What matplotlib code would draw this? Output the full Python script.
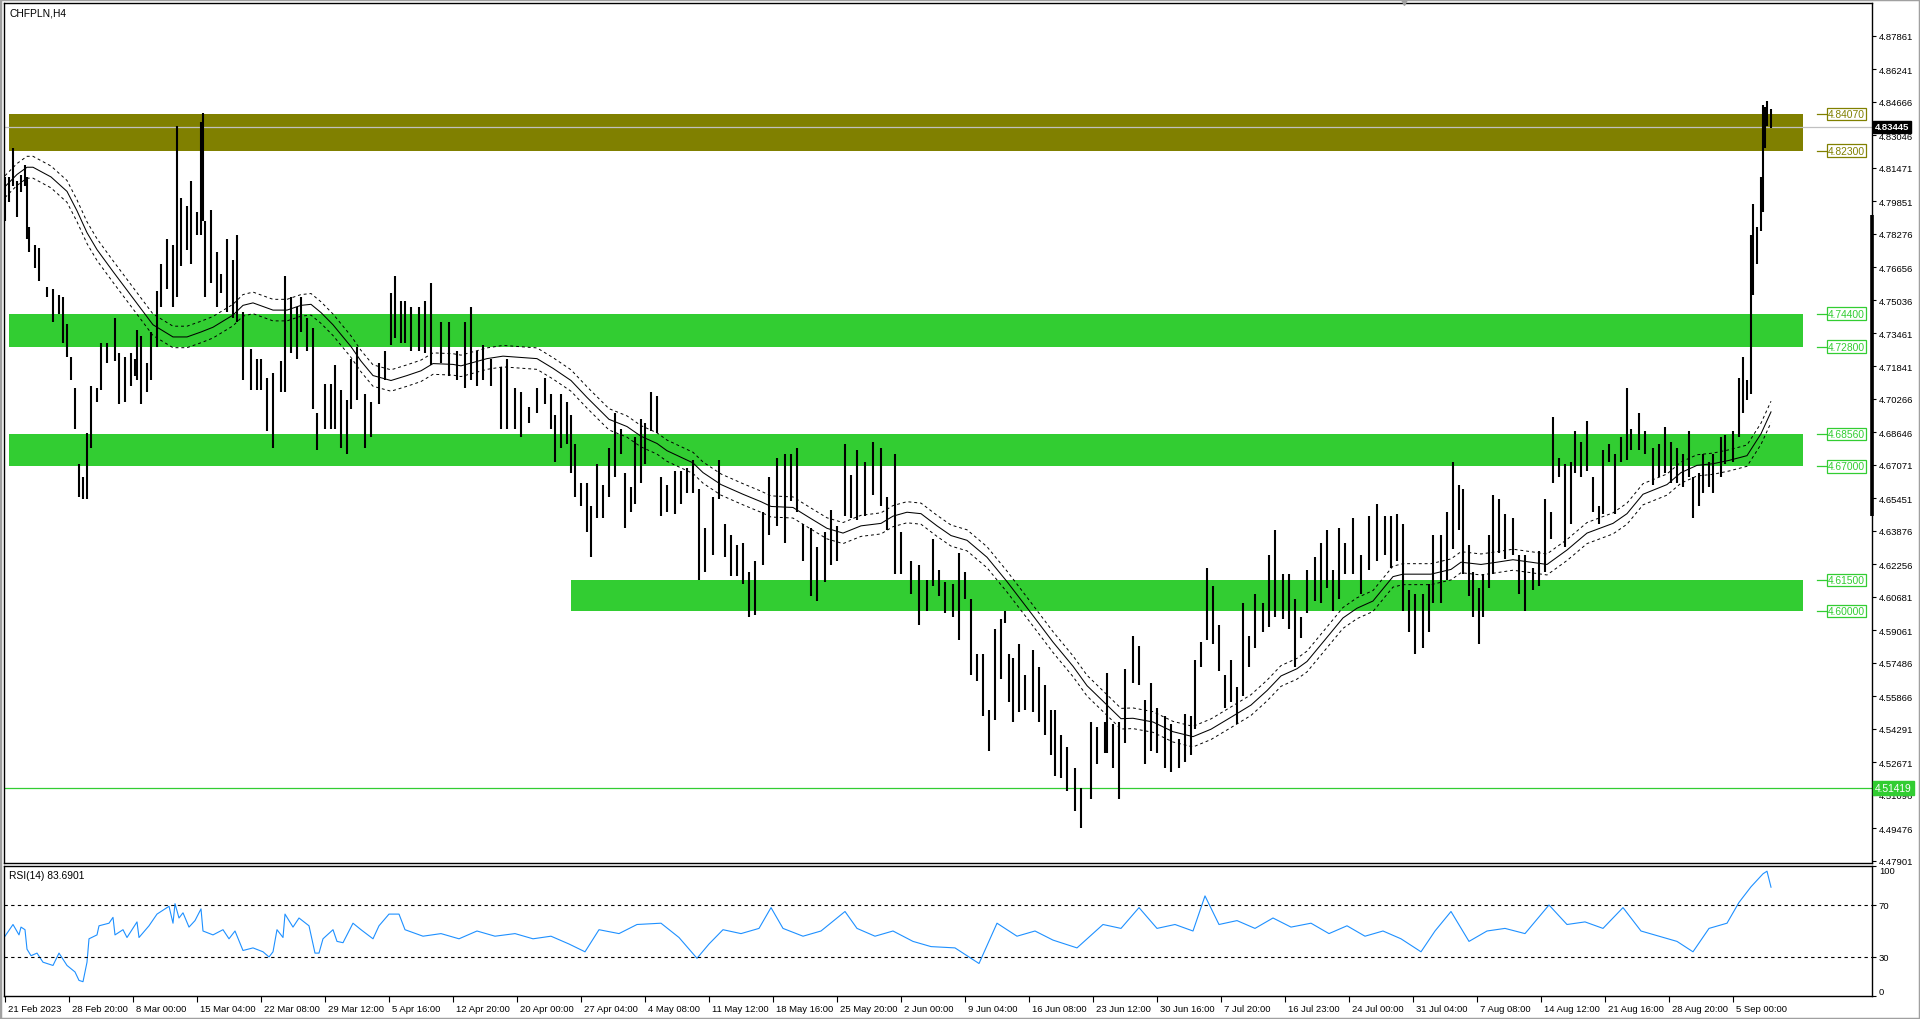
import matplotlib
matplotlib.use("Agg")
import matplotlib.pyplot as plt
import matplotlib.transforms as mtransforms
from matplotlib.patches import Rectangle

# ---------------- data ----------------
symbol_title = "CHFPLN,H4"

bar_idx = [0,2,4,6,8,10,11,12,15,17,21,24,27,29,31,33,35,37,39,41,43,46,48,51,55,57,60,63,65,66,68,71,73,76,78,81,84,86,88,91,93,96,98,99,100,103,106,108,111,114,116,119,123,126,128,131,134,138,140,143,146,148,151,154,156,160,163,165,168,171,173,176,180,183,187,190,193,195,198,200,203,207,210,213,218,222,226,230,
           233,236,239,243,248,251,255,258,262,266,270,273,275,278,281,283,285,288,291,293,296,299,302,305,308,310,313,315,318,320,323,326,328,331,335,338,341,344,347,350,354,357,360,363,366,369,372,375,379,382,386,390,393,396,399,403,406,410,413,416,420,423,426,430,434,438,441,445,448,453,457,461,
           464,467,470,474,477,480,483,486,489,492,495,498,500,502,504,507,510,514,517,520,523,525,528,531,535,538,543,546,550,551,554,557,560,564,567,570,573,576,580,583,587,590,593,595,598,601,604,607,610,613,616,619,622,625,629,632,635,639,642,645,648,651,655,658,661,664,667,670,674,678,682,686,690,
           693,696,699,702,705,709,712,714,718,721,724,727,729,732,734,737,739,742,744,747,750,754,757,760,764,767,770,773,774,777,780,783,785,788,791,794,797,799,802,805,808,811,813,817,820,824,827,830,833,836,839,842,844,847,849,852,854,858,860,864,867,869,871,873,874,876,878,879,880,881,883]

bar_high = [4.810,4.810,4.824,4.808,4.811,4.816,4.810,4.786,4.777,4.776,
            4.757,4.756,4.753,4.752,4.739,4.723,4.708,4.671,4.665,4.686,
            4.709,4.708,4.730,4.730,4.742,4.725,4.723,4.725,4.722,4.736,
            4.733,4.720,4.735,4.755,4.768,4.780,4.777,4.835,4.800,4.796,
            4.808,4.793,4.837,4.841,4.789,4.794,4.774,4.763,4.780,4.770,
            4.782,4.745,4.727,4.722,4.722,4.713,4.715,4.721,4.762,4.752,
            4.747,4.752,4.742,4.737,4.696,4.710,4.710,4.719,4.707,4.702,
            4.722,4.728,4.705,4.701,4.720,4.726,4.754,4.762,4.750,4.750,
            4.747,4.747,4.750,4.759,4.740,4.740,4.726,4.740,
            4.747,4.726,4.729,4.722,4.718,4.722,4.708,4.706,4.699,4.708,
            4.713,4.705,4.695,4.705,4.701,4.695,4.681,4.662,4.662,4.651,
            4.671,4.661,4.679,4.696,4.688,4.667,4.660,4.684,4.693,4.691,
            4.706,4.704,4.665,4.661,4.668,4.668,4.669,4.673,4.659,4.640,
            4.655,4.673,4.642,4.637,4.632,4.633,4.619,4.624,4.648,4.665,
            4.674,4.676,4.676,4.679,4.642,4.640,4.631,4.638,4.649,4.641,
            4.681,4.666,4.678,4.672,4.682,4.679,4.655,4.676,4.638,4.624,4.622,4.615,
            4.635,4.620,4.614,4.613,4.628,4.619,4.606,4.579,4.579,4.552,
            4.591,4.596,4.600,4.579,4.577,4.584,4.569,4.581,4.573,4.564,
            4.552,4.552,4.540,4.534,4.524,4.514,4.546,4.544,4.546,4.570,
            4.545,4.546,4.572,4.588,4.583,4.557,4.565,4.553,4.549,4.545,
            4.538,4.550,4.549,4.576,4.585,4.621,4.612,4.593,4.569,4.576,
            4.563,4.604,4.588,4.608,4.604,4.627,4.639,4.618,4.618,4.606,
            4.597,4.620,4.626,4.633,4.639,4.620,4.640,4.633,4.645,4.627,
            4.646,4.652,4.646,
            4.646,4.647,4.642,4.610,4.608,4.608,4.613,4.637,4.637,4.648,
            4.672,4.661,4.659,4.632,4.619,4.611,4.618,4.637,4.656,4.654,
            4.647,4.645,4.627,4.627,4.621,4.629,4.654,4.648,4.694,4.674,
            4.671,4.672,4.687,4.682,4.692,4.665,4.651,4.678,4.681,4.676,
            4.684,4.708,4.688,4.696,4.687,4.679,4.681,4.689,4.682,4.679,
            4.676,4.687,4.665,4.667,4.676,4.672,4.676,4.684,4.685,4.687,
            4.713,4.723,4.712,4.782,4.797,4.786,4.810,4.845,4.844,4.847,4.843]

bar_low = [4.789,4.798,4.806,4.791,4.803,4.806,4.780,4.774,4.766,4.760,
           4.752,4.740,4.744,4.730,4.723,4.712,4.688,4.655,4.654,4.654,
           4.679,4.701,4.707,4.720,4.721,4.700,4.701,4.709,4.714,4.712,
           4.700,4.706,4.712,4.728,4.747,4.756,4.747,4.752,4.767,4.775,
           4.768,4.782,4.782,4.789,4.752,4.759,4.747,4.754,4.745,4.742,
           4.740,4.712,4.707,4.707,4.707,4.687,4.679,4.706,4.706,4.725,
           4.722,4.735,4.726,4.698,4.678,4.688,4.688,4.688,4.679,4.676,
           4.698,4.702,4.679,4.684,4.700,4.712,4.729,4.732,4.730,4.730,
           4.726,4.726,4.725,4.719,4.720,4.714,4.712,4.708,
           4.712,4.709,4.712,4.709,4.688,4.688,4.688,4.684,4.691,4.696,
           4.700,4.688,4.672,4.679,4.681,4.667,4.655,4.651,4.638,4.626,
           4.645,4.645,4.655,4.665,4.676,4.640,4.648,4.652,4.662,4.671,
           4.687,4.686,4.646,4.648,4.647,4.652,4.657,4.657,4.615,4.619,
           4.627,4.654,4.626,4.617,4.617,4.613,4.597,4.598,4.622,4.637,
           4.641,4.633,4.653,4.648,4.624,4.607,4.605,4.614,4.622,4.624,
           4.646,4.645,4.644,4.646,4.656,4.651,4.639,4.618,4.618,4.608,4.593,4.600,
           4.612,4.607,4.599,4.597,4.586,4.606,4.569,4.566,4.549,4.532,
           4.547,4.567,4.594,4.556,4.546,4.551,4.552,4.551,4.546,4.540,
           4.530,4.520,4.519,4.513,4.503,4.495,4.509,4.526,4.531,4.531,
           4.524,4.509,4.536,4.565,4.564,4.526,4.532,4.531,4.524,4.522,
           4.524,4.527,4.530,4.543,4.573,4.586,4.584,4.571,4.553,4.556,
           4.545,4.559,4.573,4.582,4.590,4.592,4.597,4.596,4.591,4.573,
           4.587,4.599,4.605,4.604,4.611,4.600,4.606,4.618,4.618,4.608,
           4.620,4.624,4.627,
           4.621,4.624,4.600,4.590,4.579,4.582,4.590,4.604,4.604,4.615,
           4.630,4.639,4.618,4.607,4.597,4.584,4.597,4.611,4.618,4.628,
           4.625,4.627,4.608,4.600,4.610,4.612,4.619,4.635,4.662,4.665,
           4.631,4.642,4.667,4.665,4.668,4.648,4.642,4.647,4.672,4.647,
           4.672,4.673,4.678,4.678,4.676,4.661,4.665,4.667,4.662,4.662,
           4.660,4.665,4.645,4.651,4.657,4.660,4.657,4.665,4.671,4.672,
           4.684,4.696,4.702,4.705,4.753,4.768,4.784,4.793,4.824,4.835,4.834]

ma_idx = [0,6,11,14,23,31,36,41,46,54,64,74,84,91,98,104,114,119,124,134,
          141,148,153,158,164,173,178,184,193,201,208,214,224,228,241,249,266,274,283,291,
          302,311,318,326,331,344,349,358,369,378,383,394,403,411,419,428,438,444,451,458,
          466,473,481,491,501,513,524,534,541,551,558,564,574,584,594,603,613,623,631,638,
          646,651,661,669,676,684,690,694,699,713,723,728,738,746,754,763,771,781,791,804,
          811,819,831,838,846,854,862,871,878,883]
ma_val = [4.8055,4.8114,4.8149,4.8149,4.8102,4.8032,4.7938,4.7832,4.7750,4.7644,
          4.7515,4.7386,4.7327,4.7327,4.7351,4.7374,4.7433,4.7480,4.7492,4.7457,
          4.7457,4.7480,4.7485,4.7445,4.7386,4.7280,4.7210,4.7140,4.7116,4.7140,
          4.7163,4.7198,4.7194,4.7187,4.7222,4.7234,4.7222,4.7175,4.7116,4.7034,
          4.6928,4.6893,4.6846,4.6811,4.6776,4.6717,4.6670,4.6612,4.6565,4.6529,
          4.6506,4.6501,4.6447,4.6400,4.6377,4.6412,4.6424,4.6459,4.6478,4.6471,
          4.6412,4.6365,4.6342,4.6260,4.6142,4.5990,4.5849,4.5732,4.5638,4.5544,
          4.5478,4.5480,4.5462,4.5415,4.5391,4.5427,4.5485,4.5544,4.5614,4.5685,
          4.5720,4.5755,4.5872,4.5966,4.6013,4.6048,4.6119,4.6166,4.6178,4.6178,
          4.6201,4.6236,4.6225,4.6236,4.6248,4.6236,4.6225,4.6295,4.6377,4.6424,
          4.6471,4.6565,4.6612,4.6670,4.6705,4.6713,4.6729,4.6752,4.6858,4.6964]
envelope_pct = 0.11

rsi_idx = [0,4,7,8,10,11,13,16,19,24,27,31,35,37,39,41,42,46,47,52,54,55,59,61,66,67,72,76,82,84,85,87,89,92,95,98,99,
           104,109,112,115,119,124,129,132,134,136,139,140,144,147,152,155,157,159,164,166,169,174,178,184,187,192,197,
           200,209,218,227,236,245,255,264,273,282,290,297,307,316,328,337,346,352,359,368,377,383,389,399,408,420,426,
           435,444,454,463,475,487,496,506,515,524,536,549,558,567,576,585,594,600,607,616,625,634,643,653,662,671,680,
           689,698,708,715,723,732,741,750,760,772,781,790,799,809,818,827,836,844,852,861,867,873,879,881,883]
rsi_val = [46,55,47,53,51,36,31,33,26,23.5,33,23.5,18.5,12,11,26,44,47,54,56,60.5,47,51,45,57,45,54,63,69,56,71,60,64,53,58,67,50,
           47,51,44,50,35,37,34,30,34,51,45,63,53,60,54,33,33,44,51,42,41,56,51,44,54,63,63,
           51,46,48,44,50,46,48,44,46,40,34,51,48,55,56,45,29,40,51,48,52,68,52,46,50,65,52,
           46,50,42,38,37,25,56,46,50,43,37,55,52,68,52,55,50,77,55,58,52,60,53,56,48,54,46,
           50,44,34,50,65,42,50,52,48,70,55,57,52,68,50,46,42,34,52,56,72,84,94,96,83.69]
rsi_last_text = "RSI(14) 83.6901"
rsi_levels = [70, 30]
rsi_ticks = [100, 70, 30, 0]

zone_low = [4.8230, 4.7280, 4.6700, 4.6000]
zone_high = [4.8407, 4.7440, 4.6856, 4.6150]
zone_start = [2, 2, 2, 283]
zone_end = 899
zone_colors = ["#808000", "#32CD32", "#32CD32", "#32CD32"]

current_price = 4.83445
support_price = 4.51419

price_ticks = [4.87861,4.86241,4.84666,4.83046,4.81471,4.79851,4.78276,4.76656,4.75036,4.73461,
               4.71841,4.70266,4.68646,4.67071,4.65451,4.63876,4.62256,4.60681,4.59061,4.57486,
               4.55866,4.54291,4.52671,4.51096,4.49476,4.47901]

date_idx = [0,32,64,96,128,160,192,224,256,288,320,352,384,416,448,480,512,544,576,608,640,672,704,736,768,800,832,864]
date_labels = ["21 Feb 2023","28 Feb 20:00","8 Mar 00:00","15 Mar 04:00","22 Mar 08:00","29 Mar 12:00",
               "5 Apr 16:00","12 Apr 20:00","20 Apr 00:00","27 Apr 04:00","4 May 08:00","11 May 12:00",
               "18 May 16:00","25 May 20:00","2 Jun 00:00","9 Jun 04:00","16 Jun 08:00","23 Jun 12:00",
               "30 Jun 16:00","7 Jul 20:00","16 Jul 23:00","24 Jul 00:00","31 Jul 04:00","7 Aug 08:00",
               "14 Aug 12:00","21 Aug 16:00","28 Aug 20:00","5 Sep 00:00"]

# ---------------- figure ----------------
W, H = 1920, 1020
FONT = "Liberation Sans"
FS = 6.8
plt.rcParams["font.family"] = [FONT, "DejaVu Sans"]

fig = plt.figure(figsize=(W / 100, H / 100), dpi=100)
fig.patch.set_facecolor("white")

def frac(x0, y0, x1, y1):
    return [x0 / W, 1 - y1 / H, (x1 - x0) / W, (y1 - y0) / H]

ax = fig.add_axes(frac(4, 4, 1872, 864))
rax = fig.add_axes(frac(4, 867, 1872, 997))

XMIN, XMAX = -0.5, 933.5
ax.set_xlim(XMIN, XMAX)
ax.set_ylim(4.47790, 4.89445)

# zones
for lo, hi, st, c in zip(zone_low, zone_high, zone_start, zone_colors):
    ax.add_patch(Rectangle((st, lo), zone_end - st, hi - lo, facecolor=c, edgecolor="none", zorder=1))

# horizontal lines
ax.axhline(current_price, color="#C0C0C0", lw=0.9, zorder=2)
ax.axhline(support_price, color="#32CD32", lw=0.9, zorder=2)

# moving average + envelope
ma_up = [v * (1 + envelope_pct / 100) for v in ma_val]
ma_dn = [v * (1 - envelope_pct / 100) for v in ma_val]
ax.plot(ma_idx, ma_val, color="black", lw=0.75, zorder=3)
ax.plot(ma_idx, ma_up, color="black", lw=0.7, ls=(0, (3, 3)), zorder=3)
ax.plot(ma_idx, ma_dn, color="black", lw=0.7, ls=(0, (3, 3)), zorder=3)

# bars
ax.vlines(bar_idx, bar_low, bar_high, color="black", lw=1.5, zorder=4)

# zone price labels
lab_x = 911
for lo, hi, c in zip(zone_low, zone_high, zone_colors):
    for lvl in (hi, lo):
        ax.plot([906, lab_x], [lvl, lvl], color=c, lw=0.9, zorder=5, clip_on=False)
        ax.text(lab_x + 0.5, lvl, f"{lvl:.5f}", color=c, fontsize=FS + 0.6, va="center", ha="left",
                zorder=6, bbox=dict(boxstyle="square,pad=0.12", fc="white", ec=c, lw=0.9))

# right axis ticks
ax.yaxis.tick_right()
ax.set_yticks(price_ticks)
ax.set_yticklabels([f"{t:.5f}" for t in price_ticks])
ax.tick_params(axis="y", right=True, left=False, length=3, width=0.8, pad=2, labelsize=FS, colors="black")
ax.set_xticks([])
for s in ax.spines.values():
    s.set_color("black"); s.set_linewidth(1.0)

# current price box and support price box
ax.annotate(f"{current_price:.5f}", xy=(1, current_price), xycoords=("axes fraction", "data"),
            xytext=(2.2, 0), textcoords="offset points", va="center", ha="left", fontsize=FS,
            color="white", fontweight="bold",
            bbox=dict(boxstyle="square,pad=0.18", fc="black", ec="black"), zorder=10, annotation_clip=False)
ax.annotate(f"{support_price:.5f}", xy=(1, support_price), xycoords=("axes fraction", "data"),
            xytext=(2.2, 0), textcoords="offset points", va="center", ha="left", fontsize=FS + 0.6,
            color="white",
            bbox=dict(boxstyle="square,pad=0.18", fc="#32CD32", ec="#32CD32"), zorder=10, annotation_clip=False)

# thick segment on the price scale
trans_axis = mtransforms.blended_transform_factory(ax.transAxes, ax.transData)
ax.plot([1, 1], [4.7917, 4.6459], transform=trans_axis, color="black", lw=2.6, clip_on=False, zorder=9,
        solid_capstyle="butt")

# title
ax.text(5 / 1868, 1 - 5 / 860, symbol_title, transform=ax.transAxes, fontsize=FS + 0.6,
        va="top", ha="left", color="black")

# ---------------- RSI ----------------
rax.set_xlim(XMIN, XMAX)
rax.set_ylim(0, 100)
rax.plot(rsi_idx, rsi_val, color="#1E90FF", lw=0.8)
for lv in rsi_levels:
    rax.axhline(lv, color="black", lw=0.8, ls=(0, (3, 3)))
rax.yaxis.tick_right()
rax.set_yticks(rsi_ticks)
rax.set_yticklabels([str(t) for t in rsi_ticks])
rax.tick_params(axis="y", right=True, left=False, length=3, width=0.8, pad=2, labelsize=FS)
for lab, t in zip(rax.get_yticklabels(), rsi_ticks):
    if t == 100:
        lab.set_va("top")
    elif t == 0:
        lab.set_va("bottom")
rax.set_xticks(date_idx)
rax.set_xticklabels(date_labels)
rax.tick_params(axis="x", bottom=True, length=4, width=0.8, pad=1.5, labelsize=FS)
offset = mtransforms.ScaledTranslation(2 / 72, 0, fig.dpi_scale_trans)
for lab in rax.get_xticklabels():
    lab.set_ha("left")
    lab.set_transform(lab.get_transform() + offset)
for s in rax.spines.values():
    s.set_color("black"); s.set_linewidth(1.0)
rax.text(5 / 1868, 1 - 4 / 130, rsi_last_text, transform=rax.transAxes, fontsize=FS + 0.6,
         va="top", ha="left", color="black")

# window frame & shift marker
fig.add_artist(Rectangle((0, 0), 1, 1, transform=fig.transFigure, fill=False, ec="#A0A0A0", lw=2.5))
fig.add_artist(plt.Line2D([1404 / W], [1 - 3 / H], marker="v", color="#A0A0A0", markersize=5,
                          transform=fig.transFigure))

fig.savefig("out.png", dpi=100)
